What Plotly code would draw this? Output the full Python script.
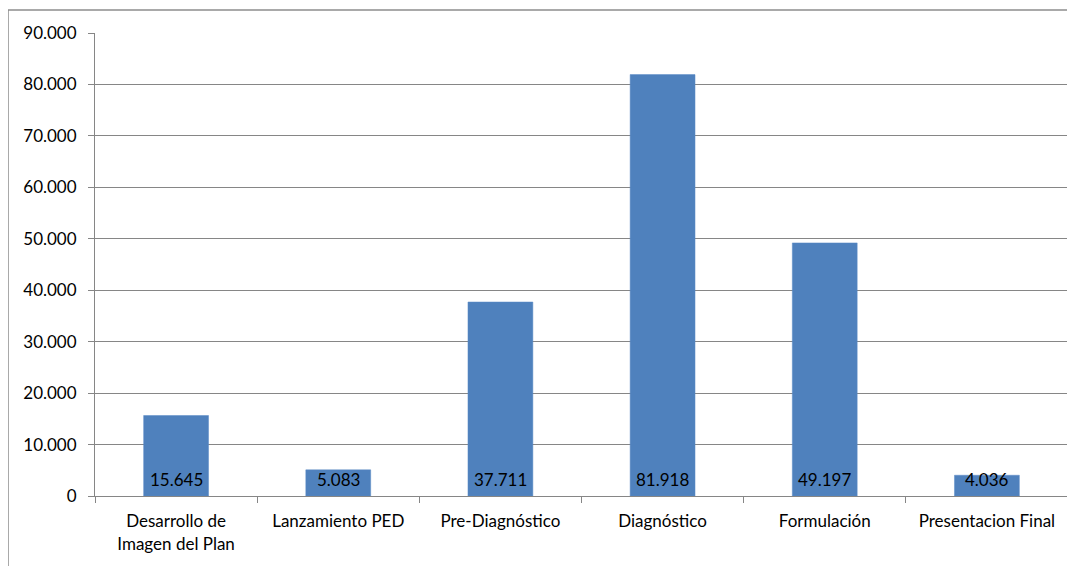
import plotly.graph_objects as go

categories = ["Desarrollo de<br>Imagen del Plan", "Lanzamiento PED", "Pre-Diagnóstico",
              "Diagnóstico", "Formulación", "Presentacion Final"]
values = [15645, 5083, 37711, 81918, 49197, 4036]
tick_vals = [0, 10000, 20000, 30000, 40000, 50000, 60000, 70000, 80000, 90000]

W, H = 1075, 566
OFF = 8  # page body offset
ml, mr, mt, mb = 95 - OFF, W - 1068 + OFF, 33 - OFF, H - 496 + OFF

fig = go.Figure(go.Bar(
    x=categories, y=values,
    marker=dict(color="#4F81BD", line=dict(color="#5A8AC6", width=0.5)),
    width=0.4,
    hoverinfo="x+y",
))

for c, v in zip(categories, values):
    fig.add_annotation(x=c, y=0, yanchor="bottom", yshift=4, showarrow=False,
                       text=f"{v:,}".replace(",", "."),
                       font=dict(color="black", size=17, family="Lato"))

pw = W - ml - mr
ph = H - mt - mb
bottom_px = H - mb  # in figure coords
# outer chart border (left & top)
left_x = (8 - OFF - ml) / pw
top_y = (bottom_px - (10 - OFF)) / ph
fig.add_shape(type="line", xref="paper", yref="paper",
              x0=left_x, x1=(W + 5 - ml) / pw, y0=top_y, y1=top_y,
              line=dict(color="#8C8C8C", width=1.5))
fig.add_shape(type="line", xref="paper", yref="paper",
              x0=left_x, x1=left_x, y0=top_y, y1=-(mb + 5) / ph,
              line=dict(color="#8C8C8C", width=1.5))

fig.update_layout(
    width=W, height=H,
    margin=dict(l=ml, r=mr, t=mt, b=mb, autoexpand=False),
    paper_bgcolor="white", plot_bgcolor="white",
    separators=",.",
    showlegend=False,
    font=dict(family="Lato", size=17, color="black"),
    xaxis=dict(showline=True, linecolor="#868686", linewidth=1, automargin=False,
               ticks="outside", tickson="boundaries", ticklen=6, tickcolor="#868686",
               ticklabelstandoff=10, tickfont=dict(size=17)),
    yaxis=dict(range=[0, 90000], tickvals=tick_vals, tickformat=",d", automargin=False,
               showline=True, linecolor="#868686", linewidth=1,
               ticks="outside", ticklen=6, tickcolor="#868686", ticklabelstandoff=8,
               showgrid=True, gridcolor="#868686", gridwidth=1,
               zeroline=False, tickfont=dict(size=17)),
)

fig.write_html("out.html")
